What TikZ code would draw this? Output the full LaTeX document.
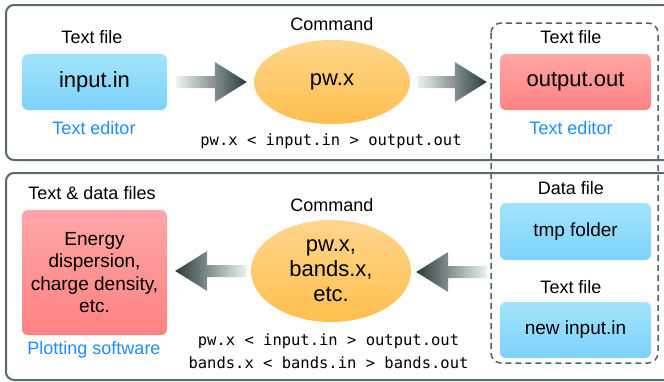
\documentclass[tikz,border=0pt]{standalone}
\usepackage{fontspec}
\setmainfont{Liberation Sans}
\setmonofont{DejaVu Sans Mono}
\usetikzlibrary{shapes.geometric,calc}
\definecolor{panelc}{HTML}{5B6B6B}
\definecolor{dashc}{HTML}{4D6470}
\definecolor{bluetop}{HTML}{A2E4FB}
\definecolor{bluebot}{HTML}{7CD2FA}
\definecolor{redtop}{HTML}{FFA6A6}
\definecolor{redbot}{HTML}{FF8282}
\definecolor{orgtop}{HTML}{FFD68C}
\definecolor{orgbot}{HTML}{FFBE4E}
\definecolor{edblue}{HTML}{1E8EFF}
\definecolor{arrlight}{HTML}{EEF3F2}
\definecolor{arrdark}{HTML}{2A3A3A}
\tikzset{
  panel/.style={draw=panelc, line width=2pt, rounded corners=8pt},
  dashbox/.style={draw=dashc, line width=1.5pt, dash pattern=on 6pt off 4pt, rounded corners=10pt},
  filebox/.style={rounded corners=6pt, minimum width=145pt, minimum height=56pt, align=center, inner sep=2pt},
  bluebox/.style={filebox, shade, top color=bluetop, bottom color=bluebot},
  redbox/.style={filebox, shade, top color=redtop, bottom color=redbot},
  cmdell/.style={ellipse, shade, top color=orgtop, bottom color=orgbot, align=center, inner sep=0pt, font=\fontsize{22}{25}\selectfont},
  lbl/.style={font=\fontsize{18}{21}\selectfont, inner sep=0pt},
  edit/.style={font=\fontsize{18}{21}\selectfont, text=edblue, inner sep=0pt},
  mono/.style={font=\ttfamily\fontsize{15.5}{18}\selectfont, inner sep=0pt},
}
\newcommand\garrow[4]{%
  \shade[left color=#3, right color=#4] let \p1=(#1), \p2=(#2), \p3=($(#2)!32pt!(#1)$) in
    (\x1,\y1+6pt) -- (\x3,\y1+6pt) -- (\x3,\y1+20pt) -- (\x2,\y1) -- (\x3,\y1-20pt) -- (\x3,\y1-6pt) -- (\x1,\y1-6pt) -- cycle;}
\begin{document}
\begin{tikzpicture}[x=1pt,y=-1pt]
\useasboundingbox (0,0) rectangle (664,381);
% panels
\draw[panel, fill=white] (6,5) rectangle (675,160);
\draw[panel, fill=white] (6,173) rectangle (675,380);
% top row
\node[lbl] (inlbl) at (92,37) {Text file};
\node[bluebox, font=\fontsize{22}{25}\selectfont] (in) at (94.5,82) {input.in};
\node[edit] (ined) at (94,128) {Text editor};
\node[lbl] (cmd1) at (332,24) {Command};
\node[cmdell, minimum width=156pt, minimum height=84pt] (pw) at (332,82) {pw.x};
\node[mono] (cmdline1) at (331,141) {pw.x < input.in > output.out};
\node[lbl] (outlbl) at (571,37) {Text file};
\node[redbox, minimum width=151pt, font=\fontsize{22}{25}\selectfont] (out) at (575.5,82) {output.out};
\node[edit] (outed) at (571,128) {Text editor};
% dashed group
\draw[dashbox] (491,23) rectangle (658,363);
\coordinate (grp) at (491,272);
% bottom row
\node[lbl] (datalbl) at (571,188) {Data file};
\node[bluebox, minimum width=151pt, minimum height=57pt, font=\fontsize{19}{22}\selectfont] (tmp) at (575.5,231.5) {tmp folder};
\node[lbl] (newlbl) at (571,287) {Text file};
\node[bluebox, minimum width=151pt, font=\fontsize{19}{22}\selectfont] (new) at (575.5,330) {new input.in};
\node[lbl] (cmd2) at (332,205) {Command};
\node[cmdell, minimum width=160pt, minimum height=102pt, font=\fontsize{22}{25}\selectfont] (pwb) at (331,271) {pw.x,\\bands.x,\\etc.};
\node[mono] (cmdline2) at (328.5,341) {pw.x < input.in > output.out};
\node[mono] (cmdline3) at (328.5,363) {bands.x < bands.in > bands.out};
\node[lbl] (reslbl) at (92,193) {Text \& data files};
\node[redbox, minimum height=125pt, font=\fontsize{19}{22.5}\selectfont] (res) at (94.5,272.5) {Energy\\dispersion,\\charge density,\\etc.};
\node[edit] (plot) at (94,350) {Plotting software};
% arrows
\garrow{$(in.east)+(9,0)$}{$(pw.west)+(-7,0)$}{arrlight}{arrdark}
\garrow{$(pw.east)+(7,0)$}{$(out.west)+(-13,0)$}{arrlight}{arrdark}
\garrow{$(grp)+(-4,0)$}{$(pwb.east)+(5,0)$}{arrdark}{arrlight}
\garrow{$(pwb.west)+(-4,0)$}{$(res.east)+(8,0)$}{arrdark}{arrlight}
\end{tikzpicture}
\end{document}
